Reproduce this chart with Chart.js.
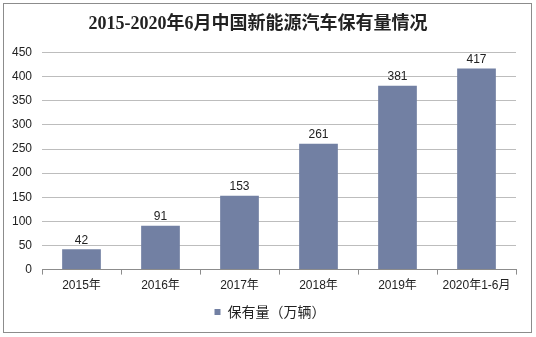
<!DOCTYPE html>
<html>
<head>
<meta charset="utf-8">
<script src="https://cdn.jsdelivr.net/npm/chart.js@4.4.0/dist/chart.umd.min.js"></script>
<style>
  html, body { margin: 0; padding: 0; background: #fff; }
  #wrap { position: relative; width: 536px; height: 337px; }
  #frame { position: absolute; left: 3px; top: 3px; width: 527px; height: 328px; border: 1px solid #8c8c8c; }
  #chart { position: absolute; left: 0; top: 0; }
</style>
</head>
<body>
<div id="wrap">
  <div id="frame"></div>
  <canvas id="chart" width="536" height="337"></canvas>
</div>
<script>
// 年份と保有量
const years = ['2015年', '2016年', '2017年', '2018年', '2019年', '2020年1-6月'];
const holdings = [42, 91, 153, 261, 381, 417];
const yTicks = [0, 50, 100, 150, 200, 250, 300, 350, 400, 450];

const titleText = '2015-2020年6月中国新能源汽车保有量情况';
const seriesName = '保有量（万辆）';

// 棒の上に数値を書く
const valueLabels = {
    id: 'valueLabels',
    afterDatasetsDraw(chart) {
        const ctx = chart.ctx;
        const meta = chart.getDatasetMeta(0);
        ctx.save();
        ctx.font = '12px "Liberation Sans", Arial, sans-serif';
        ctx.fillStyle = '#222';
        ctx.textAlign = 'center';
        ctx.textBaseline = 'bottom';
        meta.data.forEach((bar, i) => {
            ctx.fillText(holdings[i], bar.x, bar.y - 3);
        });
        ctx.restore();
    }
};

// 凡例を少し右へ
const legendShift = {
    id: 'legendShift',
    afterLayout(chart) {
        chart.legend.left += 12;
        chart.legend.right += 12;
    }
};

const ctx = document.getElementById('chart').getContext('2d');
new Chart(ctx, {
    type: 'bar',
    data: {
        labels: years,
        datasets: [{
            label: seriesName,
            data: holdings,
            backgroundColor: '#7280a3',
            barPercentage: 0.49,
            categoryPercentage: 1
        }]
    },
    options: {
        responsive: false,
        animation: false,
        layout: { padding: { left: 0, right: 20, top: 0, bottom: 8 } },
        scales: {
            y: {
                min: 0,
                max: 450,
                afterBuildTicks(scale) {
                    scale.ticks = yTicks.map(v => ({ value: v }));
                },
                afterFit(scale) { scale.width = 42; },
                border: { display: false },
                grid: { color: '#bdbdbd', drawTicks: false, lineWidth: 1 },
                ticks: {
                    padding: 10,
                    color: '#222',
                    font: { family: '"Liberation Sans", Arial, sans-serif', size: 12 }
                }
            },
            x: {
                border: { display: true, color: '#8c8c8c' },
                grid: {
                    offset: true,
                    drawOnChartArea: false,
                    drawTicks: true,
                    tickLength: 5,
                    color: '#8c8c8c'
                },
                ticks: {
                    padding: 4,
                    color: '#222',
                    font: { family: '"Liberation Sans", "Noto Sans CJK SC", sans-serif', size: 12 }
                }
            }
        },
        plugins: {
            title: {
                display: true,
                text: titleText,
                color: '#222',
                font: { family: '"Liberation Serif", "Noto Sans CJK SC", serif', size: 18, weight: 'bold', lineHeight: 1.2 },
                padding: { top: 14, bottom: 17 }
            },
            legend: {
                position: 'bottom',
                labels: {
                    boxWidth: 6,
                    boxHeight: 6,
                    padding: 8,
                    color: '#222',
                    font: { family: '"Noto Sans CJK SC", sans-serif', size: 14 }
                }
            },
            tooltip: { enabled: false }
        }
    },
    plugins: [valueLabels, legendShift]
});
</script>
</body>
</html>
